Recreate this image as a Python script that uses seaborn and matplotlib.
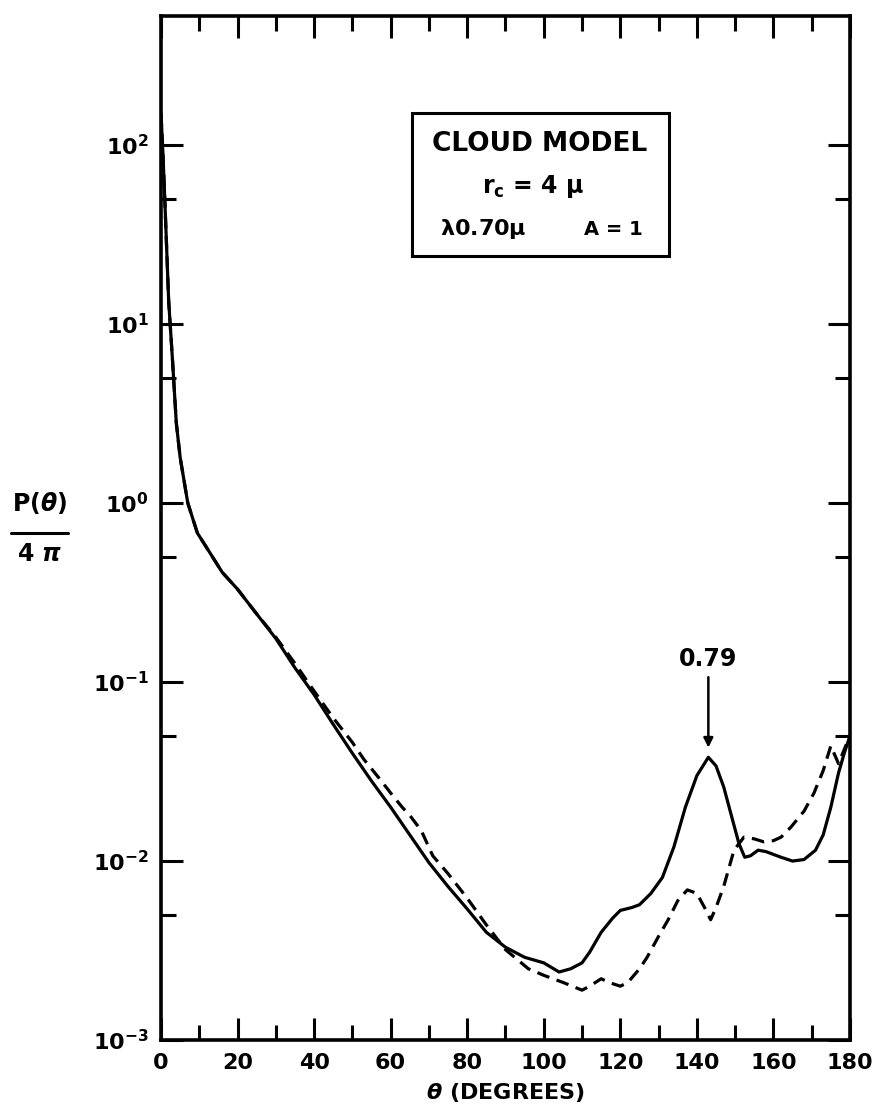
import numpy as np
import pandas as pd
import matplotlib
matplotlib.use("Agg")
import matplotlib.pyplot as plt
import matplotlib.ticker as mticker
from matplotlib.patches import Rectangle
from matplotlib.lines import Line2D
import seaborn as sns

# Phase function of the cloud model, P(theta)/4pi versus scattering angle
theta_solid = [0, 0.5, 1, 2, 3, 4, 5, 7, 9.5, 12, 16, 20, 25, 30, 35, 40, 45, 50,
               55, 60, 65, 70, 75, 80, 85, 90, 95, 100, 104, 107, 110, 112, 115,
               118, 120, 123, 125, 128, 131, 134, 137, 140, 143, 145, 147, 149,
               151, 152.5, 154, 156, 158, 162, 165, 168, 171, 173, 175, 177,
               178.5, 180]
p_solid = [150, 90, 49, 13.5, 6.3, 2.8, 1.8, 1.0, 0.68, 0.56, 0.41, 0.33, 0.24,
           0.175, 0.120, 0.085, 0.058, 0.040, 0.028, 0.020, 0.014, 0.0098,
           0.0072, 0.0054, 0.0040, 0.0033, 0.0029, 0.0027, 0.0024, 0.0025,
           0.0027, 0.0031, 0.0040, 0.0048, 0.0053, 0.0055, 0.0057, 0.0066,
           0.0081, 0.012, 0.020, 0.030, 0.038, 0.034, 0.026, 0.018, 0.0125,
           0.0105, 0.0107, 0.0115, 0.0113, 0.0105, 0.0100, 0.0102, 0.0115,
           0.014, 0.020, 0.031, 0.040, 0.050]

theta_dash = [0, 0.5, 1, 2, 3, 4, 5, 7, 9.5, 12, 16, 20, 25, 30, 35, 40, 45, 50,
              53, 57, 60, 63, 65, 68, 71, 75, 80, 85, 90, 96, 100, 105, 110, 112,
              115, 117, 120, 122, 125, 127, 130, 132.5, 135, 137.5, 140, 142,
              143.6, 145, 147, 149.7, 152.3, 155, 157.5, 160, 162, 164.6, 168,
              170.6, 173, 175, 177, 178.5, 180]
p_dash = [150, 90, 49, 13.5, 6.3, 2.8, 1.8, 1.0, 0.68, 0.56, 0.41, 0.33, 0.24,
          0.178, 0.127, 0.089, 0.063, 0.046, 0.037, 0.029, 0.024, 0.020, 0.018,
          0.0148, 0.0107, 0.0085, 0.0062, 0.0044, 0.0032, 0.0025, 0.0023,
          0.0021, 0.0019, 0.0020, 0.0022, 0.0021, 0.0020, 0.0021, 0.0025,
          0.0029, 0.0038, 0.0047, 0.0060, 0.0069, 0.0066, 0.0055, 0.0047,
          0.0055, 0.0072, 0.0115, 0.0136, 0.0133, 0.0128, 0.0130, 0.0136,
          0.0155, 0.019, 0.024, 0.032, 0.044, 0.035, 0.042, 0.050]

x_ticks = [0, 20, 40, 60, 80, 100, 120, 140, 160, 180]
y_minor_ticks = [5e-3, 5e-2, 5e-1, 5, 50]
peak_label = "0.79"
peak_theta = 143

sns.set_theme(style="ticks")
plt.rcParams["font.family"] = ["DejaVu Sans"]
plt.rcParams["font.weight"] = "bold"
plt.rcParams["mathtext.default"] = "regular"
plt.rcParams["text.color"] = "black"
plt.rcParams["axes.labelcolor"] = "black"
plt.rcParams["xtick.color"] = "black"
plt.rcParams["ytick.color"] = "black"

df = pd.concat([
    pd.DataFrame({"theta": theta_solid, "P": p_solid, "curve": "solid"}),
    pd.DataFrame({"theta": theta_dash, "P": p_dash, "curve": "dashed"}),
], ignore_index=True)

fig = plt.figure(figsize=(8.75, 11.1), dpi=100)
ax = fig.add_axes([0.184, 0.063, 0.7874, 0.9225])

sns.lineplot(data=df, x="theta", y="P", style="curve",
             dashes={"solid": "", "dashed": (4, 2.4)},
             color="black", linewidth=2.3, estimator=None, sort=False,
             legend=False, ax=ax)

ax.set_yscale("log")
ax.set_xlim(0, 180)
ax.set_ylim(1e-3, 10 ** 2.72)

ax.set_xticks(x_ticks)
ax.xaxis.set_minor_locator(mticker.MultipleLocator(10))
ax.yaxis.set_major_locator(mticker.LogLocator(base=10, numticks=10))
ax.yaxis.set_minor_locator(mticker.FixedLocator(y_minor_ticks))
ax.yaxis.set_minor_formatter(mticker.NullFormatter())
ax.yaxis.set_major_formatter(
    mticker.FuncFormatter(lambda v, pos: "10$^{%d}$" % round(np.log10(v))))

ax.tick_params(which="both", direction="in", top=True, right=True,
               width=2.2, colors="black", labelsize=16)
ax.tick_params(which="major", length=16, pad=9)
ax.tick_params(which="minor", length=11)
for sp in ax.spines.values():
    sp.set_linewidth(2.6)
    sp.set_color("black")

ax.set_xlabel(r"$\it{\theta}$ (DEGREES)", fontsize=16, fontweight="bold",
              labelpad=6)
ax.set_ylabel("")

# Vertical fraction label on the left
fig.text(0.045, 0.535, "P($\\it{\\theta}$)", ha="center", va="bottom",
         fontsize=17, fontweight="bold")
fig.add_artist(Line2D([0.013, 0.078], [0.52, 0.52], color="black",
                      linewidth=2.2, transform=fig.transFigure))
fig.text(0.045, 0.512, "4 $\\it{\\pi}$", ha="center", va="top",
         fontsize=17, fontweight="bold")

# Model description box
ax.add_patch(Rectangle((0.364, 0.766), 0.373, 0.139, transform=ax.transAxes,
                       fill=False, edgecolor="black", linewidth=2.2))
ax.text(0.55, 0.875, "CLOUD MODEL", transform=ax.transAxes, ha="center",
        va="center", fontsize=19, fontweight="bold")
ax.text(0.54, 0.834, "r$_{c}$ = 4 $\\mu$", transform=ax.transAxes, ha="center",
        va="center", fontsize=17, fontweight="bold")
ax.text(0.405, 0.792, "$\\lambda$0.70$\\mu$", transform=ax.transAxes, ha="left",
        va="center", fontsize=16, fontweight="bold")
ax.text(0.657, 0.792, "A = 1", transform=ax.transAxes, ha="center",
        va="center", fontsize=14, fontweight="bold")

# Arrow marking the back-scatter peak
ax.annotate(peak_label, xy=(peak_theta, 0.043), xytext=(peak_theta, 0.115),
            ha="center", va="bottom", fontsize=17, fontweight="bold",
            arrowprops=dict(arrowstyle="-|>", color="black", lw=1.8,
                            mutation_scale=14, shrinkA=2, shrinkB=0))

fig.savefig("out.png", dpi=100)
